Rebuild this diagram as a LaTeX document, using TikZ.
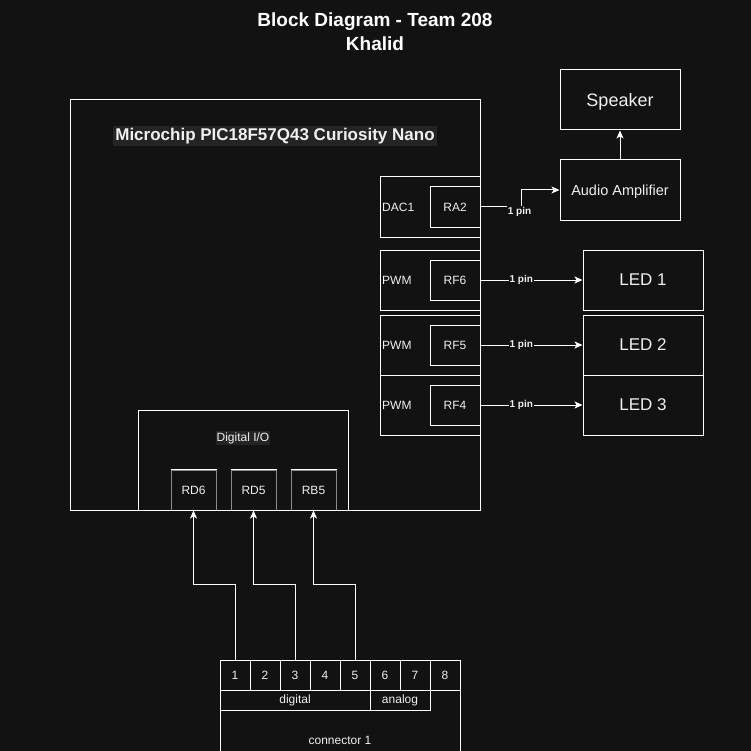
\documentclass[tikz,border=0pt]{standalone}
\usepackage{fontspec}
\setmainfont{Liberation Sans}
\usepackage{tikz}
\usetikzlibrary{arrows.meta}
\definecolor{bgdark}{HTML}{121212}
\definecolor{lblbg}{HTML}{242424}
\definecolor{txt}{HTML}{F0F0F0}
\definecolor{sidegray}{HTML}{8A8A8A}

\tikzset{
  box/.style={draw=white, line width=1pt, text=txt, inner sep=0pt},
  cell/.style={box, minimum width=30, minimum height=30, font=\fontsize{12}{14}\selectfont},
  pinbox/.style={draw=sidegray, line width=1pt, text=txt, inner sep=0pt,
    minimum width=45, minimum height=40, font=\fontsize{12}{14}\selectfont},
  small/.style={text=txt, font=\fontsize{12}{14}\selectfont, inner sep=1pt},
  pinlbl/.style={fill=bgdark, text=txt, inner sep=1pt, font=\bfseries\fontsize{10}{12}\selectfont},
  arr/.style={draw=white, line width=1pt, -{Stealth[length=8pt,width=7pt,inset=2pt]}},
  wire/.style={draw=white, line width=1pt}
}

\begin{document}
\begin{tikzpicture}[x=1pt,y=-1pt]
\fill[bgdark] (0,0) rectangle (751,751);
\useasboundingbox (0,0) rectangle (751,751);

% title
\node[text=white, align=center, font=\bfseries\fontsize{19}{24}\selectfont] (title) at (375,32)
  {Block Diagram - Team 208\\Khalid};

% microcontroller board
\node[box, minimum width=410, minimum height=410] (chip) at (275,305) {};
\node[fill=lblbg, text=txt, inner sep=2pt, font=\bfseries\fontsize{17}{20}\selectfont] (chiplbl) at (275,136)
  {Microchip PIC18F57Q43 Curiosity Nano};

% peripherals on the right edge
\node[box, minimum width=100, minimum height=60] (dac) at (430,207) {};
\node[small, anchor=west] (daclbl) at (381,207) {DAC1};
\node[box, minimum width=50, minimum height=40, font=\fontsize{12}{14}\selectfont] (ra2) at (455,207) {RA2};

\node[box, minimum width=100, minimum height=60] (pwmA) at (430,280) {};
\node[small, anchor=west] (pwmAlbl) at (381,280) {PWM};
\node[box, minimum width=50, minimum height=40, font=\fontsize{12}{14}\selectfont] (rf6) at (455,280) {RF6};

\node[box, minimum width=100, minimum height=60] (pwmB) at (430,345) {};
\node[small, anchor=west] (pwmBlbl) at (381,345) {PWM};
\node[box, minimum width=50, minimum height=40, font=\fontsize{12}{14}\selectfont] (rf5) at (455,345) {RF5};

\node[box, minimum width=100, minimum height=60] (pwmC) at (430,405) {};
\node[small, anchor=west] (pwmClbl) at (381,405) {PWM};
\node[box, minimum width=50, minimum height=40, font=\fontsize{12}{14}\selectfont] (rf4) at (455,405) {RF4};

% outputs
\node[box, minimum width=120, minimum height=60, text depth=0pt, font=\fontsize{18}{20}\selectfont] (speaker) at (620,100) {Speaker};
\node[box, minimum width=120, minimum height=60, text depth=0pt, font=\fontsize{14.5}{17}\selectfont] (amp) at (620,190) {Audio Amplifier};
\node[box, minimum width=120, minimum height=60, font=\fontsize{17}{20}\selectfont] (led1) at (643,280) {LED 1};
\node[box, minimum width=120, minimum height=60, font=\fontsize{17}{20}\selectfont] (led2) at (643,345) {LED 2};
\node[box, minimum width=120, minimum height=60, font=\fontsize{17}{20}\selectfont] (led3) at (643,405) {LED 3};

% digital inputs
\node[box, minimum width=210, minimum height=100] (dio) at (243,460) {};
\node[small, fill=lblbg] (diolbl) at (243,438) {Digital I/O};
\node[pinbox] (rd6) at (193.5,490) {RD6};
\node[pinbox] (rd5) at (253.5,490) {RD5};
\node[pinbox] (rb5) at (313.5,490) {RB5};
\foreach \p in {rd6,rd5,rb5}
  \draw[wire] (\p.north west) -- (\p.north east);
\draw[wire] (chip.south west) -- (chip.south east);

% connector
\node[box, minimum width=240, minimum height=100] (conn) at (340,740) {};
\node[small] (connlbl) at (340,740) {connector 1};
\foreach \i in {1,...,8}
  \node[cell] (p\i) at ({205+30*\i},675) {\i};
\node[box, minimum width=150, minimum height=20, font=\fontsize{12}{14}\selectfont] (digital) at (295,700) {digital};
\node[box, minimum width=60, minimum height=20, font=\fontsize{12}{14}\selectfont] (analog) at (400,700) {analog};

% connections
\draw[arr] (amp.north) -- (speaker.south);
\coordinate (bend) at (521,207);
\draw[arr] (ra2.east) -- (bend) |- (amp.west);
\node[pinlbl] (ra2lbl) at (519.5,212) {1 pin};
\draw[arr] (rf6.east) -- node[pinlbl, pos=0.4] (rf6lbl) {1 pin} (led1.west);
\draw[arr] (rf5.east) -- node[pinlbl, pos=0.4] (rf5lbl) {1 pin} (led2.west);
\draw[arr] (rf4.east) -- node[pinlbl, pos=0.4] (rf4lbl) {1 pin} (led3.west);

\draw[arr] (p1.north) -- ++(0,-75) -| (rd6.south);
\draw[arr] (p3.north) -- ++(0,-75) -| (rd5.south);
\draw[arr] (p5.north) -- ++(0,-75) -| (rb5.south);
\end{tikzpicture}
\end{document}
